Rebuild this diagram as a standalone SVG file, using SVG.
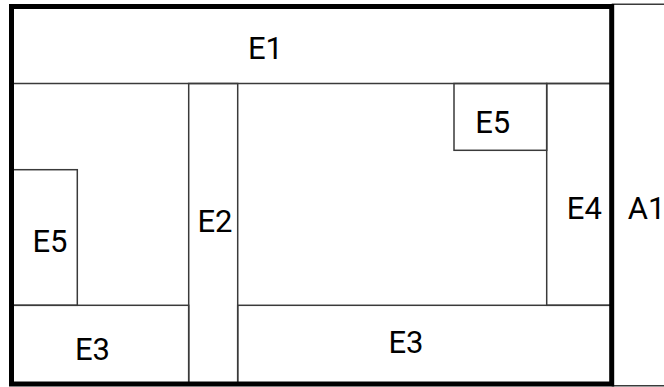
<svg xmlns="http://www.w3.org/2000/svg" width="664" height="387" viewBox="0 0 664 387">
<style>
.r{fill:none;stroke:#3a3a3a;stroke-width:1.5}
.t{font-family:Roboto,"Liberation Sans",sans-serif;font-size:31px;fill:#000;text-anchor:middle}
.b{fill:none;stroke:#000;stroke-width:5}
</style>
<rect width="664" height="387" fill="#fff"/>
<g id="E1"><rect class="r" x="11.5" y="6.5" width="600.2" height="77"/><text class="t" x="265.5" y="59.3">E1</text></g>
<g id="E5-left"><rect class="r" x="11.5" y="169.7" width="65.8" height="135.6"/><text class="t" x="50" y="251.5">E5</text></g>
<g id="E3-left"><rect class="r" x="11.5" y="305.3" width="177.2" height="78.7"/><text class="t" x="92.5" y="360">E3</text></g>
<g id="E2"><rect class="r" x="188.7" y="83.5" width="49" height="300.5"/><text class="t" x="215" y="231.7">E2</text></g>
<g id="E3-right"><rect class="r" x="237.7" y="305.3" width="374" height="78.7"/><text class="t" x="406" y="353.3">E3</text></g>
<g id="E4"><rect class="r" x="546.7" y="83.5" width="65" height="221.8"/><text class="t" x="584.3" y="219.3">E4</text></g>
<g id="E5-right"><rect class="r" x="454" y="83.5" width="92.7" height="66.8"/><text class="t" x="492.7" y="132.7">E5</text></g>
<g id="A1"><path class="r" d="M611.7 4.3H664M611.7 385.7H664"/><text class="t" x="646.7" y="219.3">A1</text></g>
<g id="border"><rect class="b" x="11.5" y="6.5" width="600.2" height="377.5"/></g>
</svg>
